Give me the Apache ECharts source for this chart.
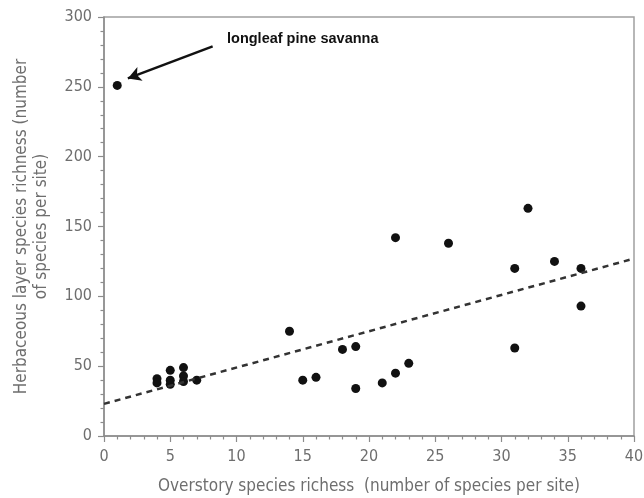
<!DOCTYPE html>
<html>

<head>
	<meta charset="utf-8" />
	<title>Herbaceous vs overstory richness</title>
	<script src="https://cdn.jsdelivr.net/npm/echarts@6/dist/echarts.min.js"></script>
	<style>
		* {
			margin: 0;
			padding: 0;
		}

		html,
		body {
			width: 644px;
			height: 498px;
			background: #fff;
		}

		#main {
			width: 644px;
			height: 498px;
		}
	</style>
</head>

<body>
	<div id="main"></div>
	<script>
		// 样点：乔木层物种数 / 草本层物种数
		var overstory = [1, 4, 4, 5, 5, 5, 6, 6, 6, 7, 14, 15, 16, 18, 19, 19, 21, 22, 22, 23, 26, 31, 31, 32, 34, 36, 36];
		var herbaceous = [251, 41, 38, 47, 40, 37, 49, 43, 39, 40, 75, 40, 42, 62, 64, 34, 38, 45, 142, 52, 138, 120, 63, 163, 125, 120, 93];
		// 回归线两端
		var trendX = [0, 40];
		var trendY = [23, 127];
		var xTicks = [0, 5, 10, 15, 20, 25, 30, 35, 40];
		var yTicks = [0, 50, 100, 150, 200, 250, 300];
		var noteText = 'longleaf pine savanna';
		var arrowFrom = [8.2, 279];
		var arrowTo = [1.8, 256];

		var axisFont = "'DejaVu Sans Condensed', 'Liberation Sans Narrow', sans-serif";
		var gray = '#8c8c8c';

		var points = overstory.map(function (x, i) { return [x, herbaceous[i]]; });
		var trend = trendX.map(function (x, i) { return [x, trendY[i]]; });

		var chart = echarts.init(document.getElementById('main'), null, { renderer: 'canvas' });

		function axisCommon() {
			return {
				type: 'value',
				axisLine: { show: true, lineStyle: { color: gray, width: 1.5 } },
				axisTick: { show: true, inside: false, length: 6, lineStyle: { color: gray, width: 1.2 } },
				minorTick: { show: true, splitNumber: 5, length: 3.5, lineStyle: { color: gray, width: 1.2 } },
				splitLine: { show: false },
				axisLabel: { color: '#6e6e6e', fontFamily: axisFont, fontSize: 16 },
				nameTextStyle: { color: '#6e6e6e', fontFamily: axisFont, fontSize: 17 }
			};
		}

		var xAxis = axisCommon();
		xAxis.min = xTicks[0];
		xAxis.max = xTicks[xTicks.length - 1];
		xAxis.interval = xTicks[1] - xTicks[0];
		xAxis.axisLabel.margin = 13;
		xAxis.name = 'Overstory species richess  (number of species per site)';
		xAxis.nameLocation = 'middle';
		xAxis.nameGap = 42;

		var yAxis = axisCommon();
		yAxis.min = yTicks[0];
		yAxis.max = yTicks[yTicks.length - 1];
		yAxis.interval = yTicks[1] - yTicks[0];
		yAxis.axisLabel.margin = 12;
		yAxis.name = 'Herbaceous layer species richness (number\nof species per site)';
		yAxis.nameLocation = 'middle';
		yAxis.nameGap = 52;
		yAxis.nameTextStyle.lineHeight = 20;

		var option = {
			animation: false,
			grid: {
				left: 104,
				right: 10,
				top: 17,
				bottom: 62,
				containLabel: false,
				outerBoundsMode: 'none',
				show: true,
				borderColor: '#a0a0a0',
				borderWidth: 1.5
			},
			xAxis: xAxis,
			yAxis: yAxis,
			graphic: [{
				type: 'text',
				left: 227,
				top: 31,
				style: {
					text: noteText,
					fill: '#111',
					font: 'bold 14.5px "Liberation Sans", Arial, sans-serif'
				}
			}],
			series: [
				{
					name: 'trend',
					type: 'line',
					data: trend,
					symbol: 'none',
					silent: true,
					lineStyle: { color: '#333', width: 2.5, type: [6, 5] },
					markLine: {
						silent: true,
						symbol: ['none', 'arrow'],
						symbolSize: [11, 13],
						label: { show: false },
						lineStyle: { color: '#111', width: 2.5, type: 'solid' },
						data: [[{ coord: arrowFrom }, { coord: arrowTo }]]
					}
				},
				{
					name: 'sites',
					type: 'scatter',
					data: points,
					symbolSize: 9,
					itemStyle: { color: '#111', opacity: 1 }
				}
			]
		};
		chart.setOption(option);
	</script>
</body>

</html>
